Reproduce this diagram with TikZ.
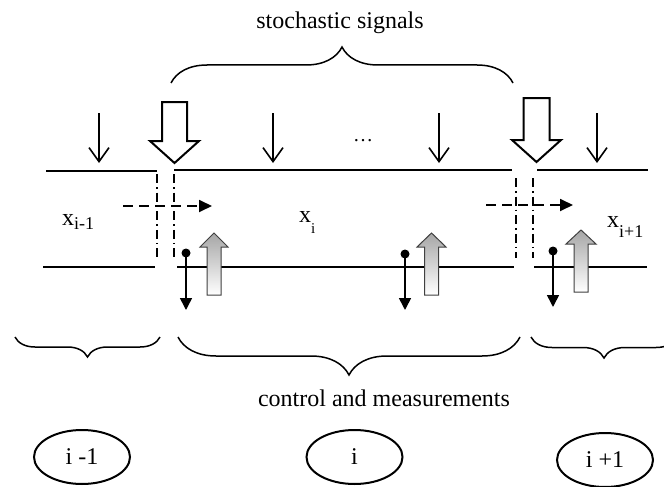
\documentclass[tikz,border=0pt]{standalone}
\usepackage{fontspec}
\setmainfont{Liberation Serif}
\usetikzlibrary{arrows.meta,decorations.pathreplacing,shapes.geometric}
\begin{document}
\begin{tikzpicture}[x=1pt,y=-1pt,
 wall/.style={line width=2pt},
 sig/.style={line width=1.6pt,-{Straight Barb[length=14pt,width=20pt]}},
 flow/.style={line width=1.8pt,dash pattern=on 10pt off 6pt,-{Triangle[length=13pt,width=12pt]}},
 bnd/.style={line width=1.6pt,dash pattern=on 9pt off 4pt on 1.6pt off 4pt},
 ctl/.style={line width=1.6pt,-{Triangle[length=12pt,width=12pt]}},
 brc/.style={line width=1.5pt,decorate,decoration={brace,amplitude=#1}},
 big/.style={draw,line width=2pt,fill=white,line join=miter},
 meas/.style={draw=gray!50!black,line width=1pt,top color=gray!70,bottom color=white},
 lbl/.style={font=\fontsize{24}{28}\selectfont,inner sep=0pt},
 unit/.style={draw,ellipse,line width=2pt,minimum width=96pt,minimum height=54pt,font=\fontsize{24}{28}\selectfont,inner sep=0pt}
]
\clip (0,0) rectangle (664,487);
\fill[white] (0,0) rectangle (664,487);
% texts
\node[lbl,anchor=base] (stoch) at (340,29) {stochastic signals};
\node[lbl,anchor=base] (ctrl) at (384,406) {control and measurements};
% braces
\draw[brc=36] (171,83) -- (513,83);
\draw[brc=20] (160,337) -- (15,337);
\draw[brc=38] (520,337) -- (178,337);
\draw[brc=21] (677,337) -- (531,337);
% channel walls
\coordinate (t1a) at (46,171); \coordinate (t1b) at (157,171);
\coordinate (t2a) at (174,170); \coordinate (t2b) at (512,170);
\coordinate (t3a) at (537,170); \coordinate (t3b) at (648,170);
\coordinate (b1a) at (43,267); \coordinate (b1b) at (155,267);
\coordinate (b2a) at (177,267); \coordinate (b2b) at (514,267);
\coordinate (b3a) at (534,267); \coordinate (b3b) at (647,267);
\draw[wall] (t1a) -- (t1b); \draw[wall] (t2a) -- (t2b); \draw[wall] (t3a) -- (t3b);
\draw[wall] (b1a) -- (b1b); \draw[wall] (b2a) -- (b2b); \draw[wall] (b3a) -- (b3b);
% boundaries
\draw[bnd] (157,174) -- (157,258);
\draw[bnd] (174,174) -- (174,258);
\draw[bnd] (516,178) -- (516,258);
\draw[bnd] (533,178) -- (533,258);
% flows
\draw[flow] (123,206) -- (212,206);
\draw[flow] (486,205) -- (573,205);
% stochastic thin arrows
\draw[sig] (99,113) -- (99,163);
\draw[sig] (273,113) -- (273,163);
\draw[sig] (439,113) -- (439,163);
\draw[sig] (597,113) -- (597,163);
\node[font=\fontsize{20}{20}\selectfont,inner sep=0pt] (dots) at (363,141) {\dots};
% big hollow arrows
\draw[big] (162,102) -- (187,102) -- (187,141) -- (199,141) -- (174.5,163) -- (150,141) -- (162,141) -- cycle;
\draw[big] (523.5,98) -- (549.5,98) -- (549.5,140) -- (561,140) -- (536.5,162) -- (512,140) -- (523.5,140) -- cycle;
% measurement (gray) arrows
\draw[meas] (207,295) -- (207,247) -- (200,247) -- (214,233) -- (228,247) -- (221,247) -- (221,295) -- cycle;
\draw[meas] (424.5,295) -- (424.5,247) -- (417,247) -- (431.5,233) -- (446,247) -- (438.5,247) -- (438.5,295) -- cycle;
\draw[meas] (574,292) -- (574,244) -- (566,244) -- (581,230) -- (596,244) -- (588,244) -- (588,292) -- cycle;
% control lollipops
\coordinate (c1) at (186,253); \coordinate (c1e) at (186,310);
\coordinate (c2) at (405,254); \coordinate (c2e) at (405,310);
\coordinate (c3) at (553,251); \coordinate (c3e) at (553,307);
\draw[ctl] (c1) -- (c1e); \fill (c1) circle (4.5pt);
\draw[ctl] (c2) -- (c2e); \fill (c2) circle (4.5pt);
\draw[ctl] (c3) -- (c3e); \fill (c3) circle (4.5pt);
% state labels
\node[lbl,anchor=base west] (xa) at (62,225) {x\raisebox{-4pt}{\fontsize{18}{18}\selectfont i-1}};
\node[lbl,anchor=base west] (xb) at (299,222) {x\raisebox{-11pt}{\fontsize{15}{15}\selectfont i}};
\node[lbl,anchor=base west] (xc) at (607,227) {x\raisebox{-10pt}{\fontsize{18}{18}\selectfont i+1}};
% units
\node[unit] (u1) at (82,457) {i -1};
\node[unit] (u2) at (354.5,457) {i};
\node[unit] (u3) at (605,460) {i +1};
\end{tikzpicture}
\end{document}
